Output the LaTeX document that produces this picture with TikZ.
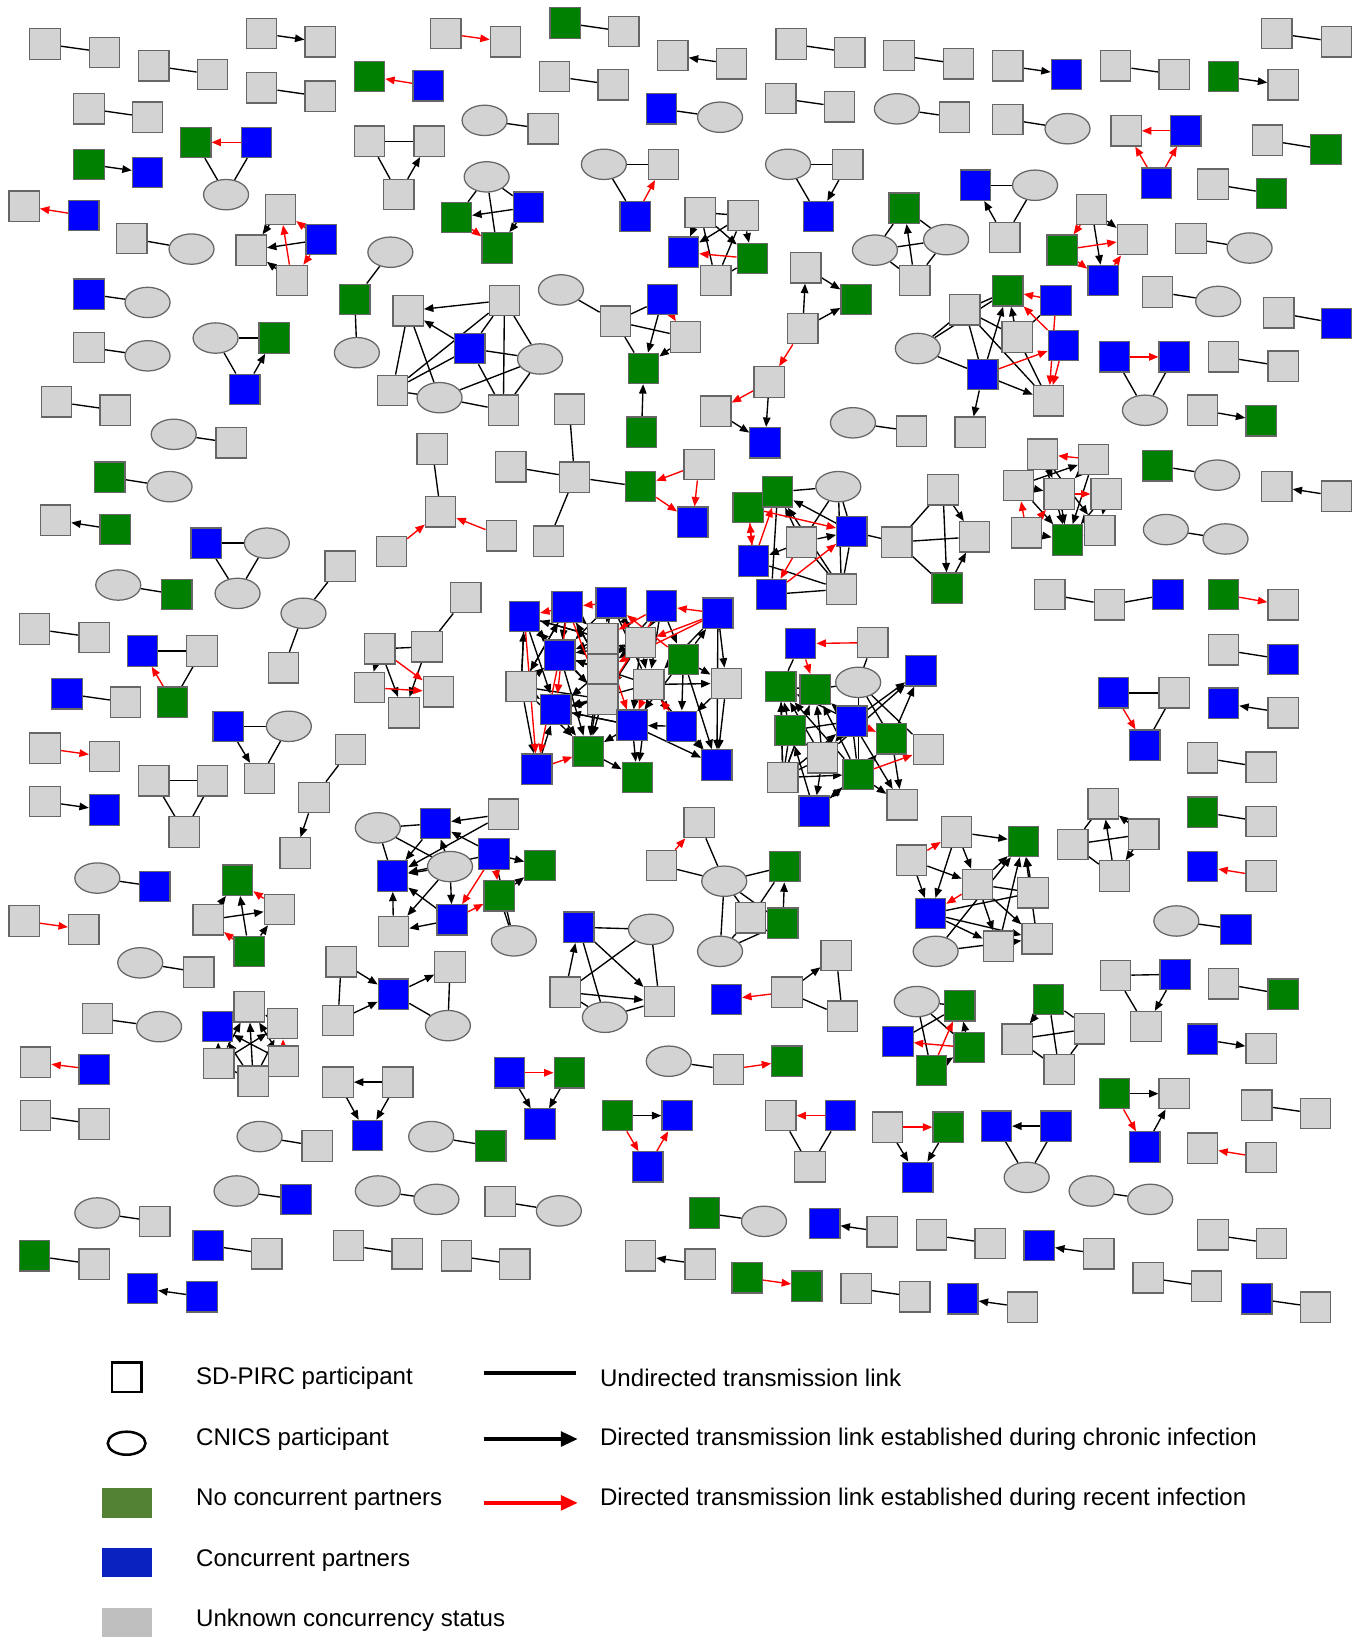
\documentclass[tikz,border=0pt]{standalone}
\usepackage{fontspec}
\setmainfont{Liberation Sans}
\usetikzlibrary{arrows.meta,shapes.geometric,backgrounds}
\definecolor{unkgray}{HTML}{D3D3D3}
\definecolor{noccgreen}{HTML}{008000}
\definecolor{concblue}{HTML}{0000FF}
\definecolor{rimgray}{HTML}{666666}
\definecolor{keygreen}{HTML}{548235}
\definecolor{keyblue}{HTML}{0A22C0}
\definecolor{keygray}{HTML}{BFBFBF}
\tikzset{
  part/.style={draw=rimgray, line width=0.6pt, inner sep=0pt},
  unk/.style={part, fill=unkgray, minimum size=14.5pt},
  nocc/.style={part, fill=noccgreen, minimum size=14.5pt},
  conc/.style={part, fill=concblue, minimum size=14.5pt},
  cnics/.style={part, ellipse, fill=unkgray, minimum width=21.5pt, minimum height=14.5pt},
  lnk/.style={line width=0.65pt},
  chr/.style={lnk, -{Triangle[length=4.5pt,width=3.6pt]}},
  rec/.style={chr, red},
  keytxt/.style={anchor=west, inner sep=0pt, font=\fontsize{11.5}{13}\selectfont},
  keybox/.style={inner sep=0pt, minimum width=24pt, minimum height=14pt},
  keyline/.style={line width=1.6pt},
}
\begin{document}
\begin{tikzpicture}[x=0.5pt,y=-0.5pt]
\useasboundingbox (0,0) rectangle (1305,1568);

%Pairs: unknown status
\foreach \n/\x/\y in {p1a/43/42, p1b/100/50, p2a/147/63, p2b/203/71, p3a/250/32, p3b/306/40, p4a/250/84, p4b/306/92, p6a/85/104, p6b/141/112, p8a/23/197, p9a/126/228, p11a/85/332, p12a/54/384, p12b/110/392, p13b/221/423, p15a/53/497, p17a/33/601, p17b/90/609, p18b/120/671, p19a/43/715, p19b/100/723, p20a/43/766, p22a/23/880, p22b/80/888, p23b/190/929, p24a/93/973, p25a/34/1015, p26a/34/1066, p26b/90/1074, p27b/303/1095, p29b/148/1167, p30b/90/1208, p31b/255/1198, p33a/333/1190, p33b/389/1198, p36a/436/1200, p36b/492/1208, p37a/478/1148, p38a/426/32, p38b/483/40, p39b/596/30, p40a/530/73, p40b/586/81, p41b/519/123, p42a/643/53, p42b/699/61, p44a/756/42, p44b/812/50, p45a/746/94, p45b/802/102, p46a/859/53, p46b/916/61, p47b/912/112, p48a/963/63, p49a/963/114, p50a/1066/63, p50b/1122/71, p51b/1226/81, p52a/1220/32, p52b/1277/40, p53a/1211/134, p54a/1159/176, p55a/1138/228, p56a/1106/279, p57a/1222/299, p58a/1169/341, p58b/1226/350, p59a/1149/392, p61a/1220/465, p61b/1277/474, p63b/1226/578, p64a/1169/621, p65b/1226/681, p66a/1149/724, p66b/1205/733, p67b/1205/785, p68b/1205/837, p70a/1169/940, p71b/1205/1002, p72a/1201/1056, p72b/1257/1064, p73a/1149/1097, p73b/1205/1106, p74a/1159/1180, p74b/1215/1188, p75a/1097/1221, p75b/1153/1229, p76b/1257/1249, p77b/1050/1198, p78a/890/1180, p78b/946/1188, p79b/977/1249, p80a/818/1231, p80b/874/1239, p81b/843/1177, p84a/612/1200, p84b/669/1208, p86b/871/412}
  \node[unk] (\n) at (\x,\y) {};
%Pairs: no concurrent partners
\foreach \n/\x/\y in {p5a/353/73, p7a/85/157, p14a/105/456, p15b/110/506, p16b/169/568, p30a/33/1200, p35b/469/1095, p39a/540/22, p51a/1169/73, p53b/1267/143, p54b/1215/185, p59b/1205/402, p60a/1106/445, p63a/1169/568, p67a/1149/776, p70b/1226/950, p82a/714/1221, p82b/771/1229, p83a/673/1159}
  \node[nocc] (\n) at (\x,\y) {};
%Pairs: concurrent partners
\foreach \n/\x/\y in {p5b/409/82, p7b/141/165, p8b/80/206, p10a/85/281, p18a/64/663, p20b/100/774, p21b/148/847, p25b/90/1022, p28b/283/1146, p31a/199/1190, p32a/136/1231, p32b/193/1239, p43a/632/104, p48b/1019/71, p57b/1277/309, p64b/1226/630, p65a/1169/672, p68a/1149/828, p69b/1181/888, p71a/1149/993, p76a/1201/1241, p77a/993/1190, p79a/920/1241, p81a/788/1169}
  \node[conc] (\n) at (\x,\y) {};
%Pairs: CNICS
\foreach \n/\x/\y in {p9b/183/238, p10b/141/289, p11b/141/340, p13a/166/415, p14b/162/465, p16a/113/559, p21a/93/839, p23a/134/920, p24b/152/981, p27a/248/1086, p28a/226/1138, p29a/93/1159, p34a/361/1138, p34b/417/1146, p35a/412/1086, p37b/534/1157, p41a/463/115, p43b/688/112, p47a/857/104, p49b/1020/123, p55b/1194/237, p56b/1164/288, p60b/1163/454, p62a/1114/506, p62b/1171/515, p69a/1124/880, p83b/730/1167, p85a/1043/1138, p85b/1099/1146, p86a/815/404}
  \node[cnics] (\n) at (\x,\y) {};

%Small groups
\foreach \n/\s/\x/\y in {t1a/nocc/187/136, t1b/conc/245/136, t1c/cnics/216/186,
  t2a/unk/353/135, t2b/unk/410/135, t2c/unk/381/186,
  t3a/cnics/206/323, t3b/nocc/262/323, t3c/conc/234/372,
  t4a/conc/197/519, t4b/cnics/255/519, t4c/cnics/227/567,
  t5a/conc/136/622, t5b/unk/193/622, t5c/nocc/165/671,
  t6a/conc/218/694, t6b/cnics/276/694, t6c/unk/248/744,
  t7a/unk/147/746, t7b/unk/203/746, t7c/unk/176/795,
  t8a/unk/335/716, t8b/unk/300/762, t8c/unk/282/815,
  t9a/unk/1076/125, t9b/conc/1133/125, t9c/conc/1105/175,
  t10a/conc/1065/341, t10b/conc/1122/341, t10c/cnics/1094/392,
  t11a/conc/1064/662, t11b/unk/1122/662, t11c/conc/1094/712,
  t12a/unk/1066/932, t12b/conc/1123/931, t12c/unk/1095/981,
  t13a/nocc/1065/1045, t13b/unk/1122/1045, t13c/conc/1094/1096,
  t14a/conc/952/1076, t14b/conc/1009/1076, t14c/cnics/981/1125,
  t15a/unk/848/1077, t15b/nocc/906/1077, t15c/conc/877/1125,
  t16a/unk/746/1066, t16b/conc/803/1066, t16c/unk/774/1115,
  t17a/nocc/590/1066, t17b/conc/647/1066, t17c/conc/619/1115,
  t18a/conc/487/1025, t18b/nocc/544/1025, t18c/conc/516/1074,
  t19a/cnics/639/1014, t19b/unk/696/1022, t19c/nocc/752/1014,
  t20a/unk/323/1034, t20b/unk/380/1034, t20c/conc/351/1085,
  t21a/conc/932/177, t21b/cnics/989/177, t21c/unk/960/227,
  t22a/cnics/577/157, t22b/unk/634/157, t22c/conc/607/207,
  t23a/cnics/753/157, t23b/unk/810/157, t23c/conc/782/207,
  t24a/unk/413/429, t24b/unk/421/489, t24c/unk/374/527, t24d/unk/479/512,
  t25a/nocc/339/286, t25b/cnics/373/241, t25c/cnics/341/337,
  t26a/unk/325/541, t26b/cnics/290/586, t26c/unk/271/638,
  t27a/unk/544/391, t27b/unk/488/446, t27c/unk/549/456, t27d/unk/524/517, t27e/nocc/612/465, t27f/unk/668/444, t27g/conc/662/499,
  t28a/unk/767/314, t28b/unk/770/256, t28c/nocc/818/286, t28d/unk/735/365, t28e/unk/684/393, t28f/conc/731/423,
  cc1/unk/1003/568, cc2/unk/1060/578, cc3/conc/1116/568}
  \node[\s] (\n) at (\x,\y) {};

%Clusters
\foreach \n/\s/\x/\y in {q1/unk/268/200, q2/unk/240/239, q3/conc/307/229, q4/unk/279/268,
  m1/cnics/465/169, m2/nocc/436/208, m3/conc/505/198, m4/nocc/475/237,
  n1/unk/390/297, n2/unk/482/287, n3/conc/449/333, n4/cnics/516/343, n5/unk/375/373, n6/cnics/420/380, n7/unk/481/392,
  r1/cnics/536/277, r2/unk/588/307, r3/conc/633/286, r4/unk/655/322, r5/nocc/615/352, r6/nocc/613/413,
  k1/unk/669/203, k2/unk/710/206, k3/conc/653/241, k4/nocc/719/247, k5/unk/684/268,
  h1/nocc/864/199, h2/cnics/836/239, h3/cnics/904/229, h4/unk/874/268,
  f1/unk/1043/200, f2/unk/1082/229, f3/nocc/1015/239, f4/conc/1054/268,
  e1/cnics/877/333, e2/unk/922/296, e3/nocc/963/278, e4/conc/1009/287, e5/unk/972/322, e6/conc/1016/330, e7/conc/939/358, e8/unk/1002/383, e9/unk/927/413,
  c1/nocc/715/485, c2/nocc/743/470, c3/cnics/801/465, c4/conc/814/508, c5/unk/766/518, c6/conc/720/536, c7/conc/737/568, c8/unk/804/563, c9/unk/857/518, c10/unk/901/468, c11/unk/931/513, c12/nocc/905/562,
  d1/unk/996/434, d2/unk/1045/439, d3/unk/973/464, d4/unk/1012/472, d5/unk/1057/472, d6/unk/981/509, d7/nocc/1020/516, d8/unk/1051/507,
  a1/conc/501/589, a2/conc/542/580, a3/conc/584/576, a4/conc/632/579, a5/conc/686/586, a6/unk/576/610, a7/unk/612/614, a8/conc/535/626, a9/nocc/653/630, a10/unk/576/640, a11/unk/498/656, a12/unk/620/654, a13/unk/694/653, a14/unk/576/668, a15/conc/531/678, a16/conc/604/693, a17/conc/651/694, a18/nocc/562/718, a19/conc/513/735, a20/nocc/609/743, a21/conc/685/731,
  b1/conc/765/615, b2/unk/834/614, b3/conc/880/641, b4/nocc/746/656, b5/nocc/779/659, b6/cnics/820/652, b7/nocc/755/698, b8/conc/814/689, b9/nocc/852/706, b10/unk/887/716, b11/unk/786/724, b12/unk/748/743, b13/nocc/820/740, b14/conc/778/775, b15/unk/862/769,
  u1/unk/445/571, u2/unk/363/620, u3/unk/408/618, u4/unk/353/657, u5/unk/419/661, u6/unk/386/681,
  i1/cnics/361/791, i2/conc/416/787, i3/unk/481/778, i4/conc/472/816, i5/nocc/516/827, i6/conc/375/837, i7/cnics/430/828, i8/nocc/477/856, i9/conc/432/879, i10/unk/376/890, i11/cnics/491/899,
  s1/nocc/227/841, s2/unk/199/879, s3/unk/267/869, s4/nocc/238/909,
  v1/unk/238/962, v2/conc/208/981, v3/unk/270/978, v4/unk/209/1016, v5/unk/271/1014, v6/unk/242/1033,
  w1/unk/326/919, w2/unk/323/975, w3/conc/376/950, w4/unk/430/924, w5/cnics/428/980,
  x1/conc/553/886, x2/cnics/622/888, x3/unk/540/948, x4/cnics/578/972, x5/unk/630/957,
  y1/unk/632/827, y2/unk/668/786, y3/cnics/692/842, y4/nocc/750/828, y5/unk/717/877, y6/nocc/748/882, y7/cnics/688/909,
  z1/conc/694/955, z2/unk/752/948, z3/unk/799/913, z4/unk/805/971,
  g1/unk/1054/768, g2/unk/1025/807, g3/unk/1093/797, g4/unk/1065/837,
  j1/nocc/1002/955, j2/unk/972/993, j3/unk/1041/983, j4/unk/1012/1022,
  l1/cnics/876/957, l2/nocc/917/961, l3/conc/858/995, l4/nocc/926/1001, l5/nocc/890/1023,
  o1/unk/871/822, o2/unk/914/795, o3/nocc/978/804, o4/unk/934/845, o5/unk/987/853, o6/conc/889/873, o7/unk/954/904, o8/unk/991/897, o9/cnics/894/909}
  \node[\s] (\n) at (\x,\y) {};

\begin{pgfonlayer}{background}
%Pair links
\foreach \k in {1,2,4,6,9,10,11,12,13,14,16,17,18,21,23,24,26,27,28,29,30,31,33,34,35,36,37,39,40,41,43,44,45,46,47,49,50,52,53,54,55,56,57,58,60,62,64,66,67,69,70,72,74,75,76,78,80,83,85,86}
  \draw[lnk] (p\k a) -- (p\k b);
\foreach \k in {3,7,20,48,51,59,71}
  \draw[chr] (p\k a) -- (p\k b);
\foreach \k in {15,32,42,61,65,77,79,81,84}
  \draw[chr] (p\k b) -- (p\k a);
\foreach \k in {19,22,38,63,82}
  \draw[rec] (p\k a) -- (p\k b);
\foreach \k in {5,8,25,68,73}
  \draw[rec] (p\k b) -- (p\k a);

%Undirected links
\foreach \a/\b in {t1a/t1c, t1b/t1c, t2a/t2b, t2c/t2a, t3a/t3b, t3a/t3c, t4a/t4b, t4a/t4c, t4b/t4c, t5a/t5b, t5b/t5c, t6a/t6b, t6b/t6c, t7a/t7b, t7a/t7c, t7b/t7c, t8a/t8b, t10a/t10c, t10b/t10c, t11a/t11b, t11b/t11c, t12a/t12c, t12a/t12b, t14a/t14c, t14b/t14c, t16a/t16c, t16b/t16c, t19a/t19b, t21a/t21b, t21c/t21b, t22a/t22b, t22a/t22c, t23a/t23b, t23a/t23c, t24a/t24b, t25a/t25b, t25a/t25c, t26a/t26b, t26b/t26c, t27a/t27c, t27b/t27c, t27c/t27d, t27c/t27e, cc1/cc2, cc2/cc3,
  m1/m2, m1/m3, m1/m4, n1/n5, n1/n6, n2/n3, n2/n7, n2/n4, n2/n5, n3/n4, n3/n5, n3/n7, n4/n6, n4/n7, n5/n6, n6/n7,
  r1/r2, r2/r3, r2/r4, r2/r5, k1/k2, k1/k5, k2/k5, k5/k4, h2/h1, h3/h1, h2/h3, h2/h4, h4/h3,
  e1/e2, e1/e3, e1/e7, e2/e3, e2/e8, e5/e8, e2/e7, e4/e5, e2/e5,
  c2/c3, c3/c5, c3/c4, c3/c8, c4/c8, c4/c9, c7/c8, c5/c8, c6/c8, c2/c7, c9/c10, c9/c11, c9/c12,
  b6/b5, b6/b13, b4/b5, b1/b4, b6/b2, b7/b12, b7/b8, b12/b11, b8/b13, b6/b9, b4/b12, b6/b10, b5/b12,
  a1/a11, a8/a10, a6/a14, a11/a14, a3/a12, a15/a16, a1/a6,
  u1/u3, u2/u3, i1/i2, i1/i6, i1/i7, i11/i8, i11/i4,
  v4/v6, v6/v5, w1/w2, w3/w5, w4/w5, x1/x2, x2/x3, x2/x5, x1/x4, x3/x4, x4/x5,
  y1/y3, y2/y3, y3/y4, y5/y4, y3/y6, y3/y5, y3/y7, y7/y5, y7/y6, z3/z4, z2/z4,
  g1/g2, g2/g3, g2/g4, j1/j3, j1/j4, j2/j3, j2/j4, j3/j4, l1/l2, l1/l5, l1/l4, l3/l2, o6/o5, o4/o5}
  \draw[lnk] (\a) -- (\b);

%Links set up during chronic infection
\foreach \a/\b in {t2c/t2b, t3c/t3b, t6a/t6c, t8b/t8c, t12b/t12c, t13a/t13b, t13c/t13b, t14b/t14a, t15a/t15c, t15b/t15c, t17a/t17b, t18a/t18c, t18b/t18c, t20b/t20a, t20a/t20c, t20b/t20c, t21c/t21a, t23b/t23c, t28a/t28b, t28b/t28c, t28a/t28c, t28d/t28f, t28e/t28f,
  q1/q2, q3/q2, q4/q2, m3/m2, m3/m4, n2/n1, n3/n1, r3/r5, r4/r5, r6/r5, k1/k3, k2/k3, k2/k4, k1/k4, h4/h1, f1/f2, f1/f4,
  e5/e3, e7/e8, e7/e9, e7/e3,
  c4/c2, c5/c2, c5/c4, c5/c6, c8/c2, c10/c12, c10/c11, c12/c11,
  d3/d2, d1/d4, d1/d7, d2/d4, d2/d7, d3/d7, d4/d7, d5/d7, d5/d8, d8/d7, d6/d7, d1/d8, d3/d4,
  a11/a1, a11/a8, a11/a15, a11/a19, a11/a18, a1/a8, a1/a15, a2/a8, a2/a6, a2/a10, a3/a6, a3/a7, a4/a7, a4/a9, a5/a13, a5/a21, a13/a21, a16/a21, a16/a20, a10/a14, a6/a10, a7/a12, a12/a17, a14/a16, a15/a18, a8/a18, a19/a15, a14/a18, a17/a16, a9/a17, a12/a13, a14/a1, a6/a1, a10/a2, a7/a3, a9/a5, a8/a14, a15/a14, a9/a13, a10/a15, a7/a10, a11/a2,
  a6/a8, a7/a8, a10/a8, a12/a8, a14/a15, a12/a15, a10/a18, a16/a18, a6/a18, a7/a16, a12/a20, a3/a10, a4/a12, a9/a16, a5/a12, a13/a17, a17/a21, a12/a21, a9/a21, a2/a11, a3/a8, a4/a10, a16/a15, a18/a20, a7/a14,
  b7/b4, b12/b4, b11/b5, b12/b5, b8/b3, b13/b14, b11/b14, b13/b15, b9/b15, b12/b13, b14/b13, b8/b5, b8/b11, b9/b3, b7/b11,
  b11/b4, b13/b4, b8/b4, b11/b7, b13/b5, b14/b7, b12/b8, b11/b3, b8/b15, b13/b9,
  u2/u4, u2/u6, u3/u6,
  i3/i2, i3/i6, i2/i6, i7/i2, i7/i6, i4/i2, i4/i5, i8/i5, i7/i10, i10/i6, i9/i6, i9/i10, i4/i6, i7/i9,
  s2/s1, s4/s1, s2/s3, s4/s3,
  v4/v2, v4/v1, v4/v3, v6/v2, v6/v1, v6/v3, v5/v2, v5/v1, v2/v1, v3/v1,
  w1/w3, w2/w3, w3/w4, x3/x1, x1/x5, x3/x5, y6/y4, z2/z3, g4/g1, g3/g1, g3/g4, j1/j2, l4/l2, l5/l4,
  o2/o3, o1/o4, o1/o6, o2/o6, o2/o4, o4/o3, o6/o7, o6/o8, o9/o3, o9/o8, o7/o3, o5/o3, o4/o8, o8/o3, o4/o7}
  \draw[chr] (\a) -- (\b);

%Links set up during recent infection
\foreach \a/\b in {t1b/t1a, t5c/t5a, t9b/t9a, t9c/t9a, t9c/t9b, t10a/t10b, t11a/t11c, t13a/t13c, t15a/t15b, t16b/t16a, t17a/t17c, t17c/t17b, t18a/t18b, t19b/t19c, t22c/t22b, t24c/t24b, t24d/t24b, t27f/t27e, t27e/t27g, t27f/t27g, t28a/t28d, t28d/t28e,
  q3/q1, q4/q1, q3/q4, m2/m4, r3/r4, k4/k3, f1/f3, f3/f2, f3/f4, f4/f2,
  e4/e3, e6/e3, e7/e6, e6/e8, e4/e8,
  c1/c6, c6/c1, c1/c4, c7/c4, c5/c7, c6/c2,
  d2/d1, d6/d3, d4/d5, d6/d4,
  a5/a4, a3/a2, a2/a1, a9/a3, a4/a6, a5/a10, a1/a19, a8/a19, a19/a18, a2/a15, a6/a16, a12/a16, a17/a12, a4/a14, a5/a7, a2/a14,
  b2/b1, b13/b10, b8/b9, b1/b5,
  u4/u5, u2/u5, i4/i8, i9/i8, i4/i9, s3/s1, s4/s2, v5/v3, y1/y2, z2/z1, l5/l2, l4/l3, o1/o2, o4/o6}
  \draw[rec] (\a) -- (\b);
\end{pgfonlayer}

%Legend
\node[draw=black, line width=1.2pt, fill=white, minimum size=14pt] (keysq) at (121,1316) {};
\node[draw=black, ellipse, line width=1.2pt, minimum width=18pt, minimum height=11pt] (keyel) at (121,1379) {};
\node[keybox, fill=keygreen] (keyg) at (121,1436) {};
\node[keybox, fill=keyblue] (keyb) at (121,1493) {};
\node[keybox, fill=keygray] (keyu) at (121,1550) {};
\node[keytxt] (txsq) at (187,1317) {SD-PIRC participant};
\node[keytxt] (txel) at (187,1375) {CNICS participant};
\node[keytxt] (txg) at (187,1433) {No concurrent partners};
\node[keytxt] (txb) at (187,1491) {Concurrent partners};
\node[keytxt] (txu) at (187,1548) {Unknown concurrency status};
\coordinate (ua) at (462,1312);
\coordinate (ub) at (550,1312);
\coordinate (ca) at (462,1375);
\coordinate (cb) at (552,1375);
\coordinate (ra) at (462,1436);
\coordinate (rb) at (552,1436);
\draw[keyline] (ua) -- (ub);
\draw[keyline, -{Triangle[length=8pt,width=7pt]}] (ca) -- (cb);
\draw[keyline, red, -{Triangle[length=8pt,width=7pt]}] (ra) -- (rb);
\node[keytxt] (txu2) at (573,1317) {Undirected transmission link};
\node[keytxt] (txc2) at (573,1375) {Directed transmission link established during chronic infection};
\node[keytxt] (txr2) at (573,1433) {Directed transmission link established during recent infection};
\end{tikzpicture}
\end{document}
